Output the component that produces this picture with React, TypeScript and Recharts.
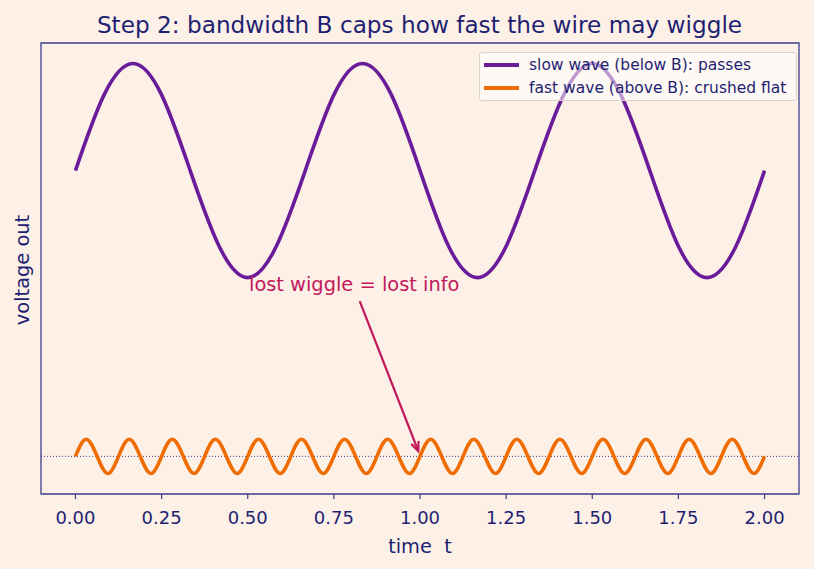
import { LineChart, Line, XAxis, YAxis, ReferenceLine, ReferenceArea, ReferenceDot } from "recharts";

const INK = "#1f1f72";
const FRAME = "#3c3c8c";
const BG = "#fdf1e7";
const SLOW = "#6a1b9a";
const FAST = "#ef6c00";
const NOTE = "#c2185b";
const FONT = "DejaVu Sans, Verdana, sans-serif";

const xTicks = [0, 0.25, 0.5, 0.75, 1, 1.25, 1.5, 1.75, 2];
const xDomain = [-0.1, 2.1];
const yDomain = [-0.3515, 3.8615];

// slow wave samples (1.5 cycles per unit of t), sampled every 1/12
const slowT = [
  0, 0.083, 0.167, 0.25, 0.333, 0.417, 0.5, 0.583, 0.667, 0.75, 0.833, 0.917, 1,
  1.083, 1.167, 1.25, 1.333, 1.417, 1.5, 1.583, 1.667, 1.75, 1.833, 1.917, 2,
];
const slowV = [
  2.67, 3.377, 3.67, 3.377, 2.67, 1.963, 1.67, 1.963,
  2.67, 3.377, 3.67, 3.377, 2.67, 1.963, 1.67, 1.963,
  2.67, 3.377, 3.67, 3.377, 2.67, 1.963, 1.67, 1.963,
  2.67,
];

// fast wave samples: zero / peak / zero / trough, every 1/32
const fastT = [
  0, 0.031, 0.063, 0.094, 0.125, 0.156, 0.188, 0.219, 0.25, 0.281, 0.313, 0.344, 0.375, 0.406, 0.438, 0.469,
  0.5, 0.531, 0.563, 0.594, 0.625, 0.656, 0.688, 0.719, 0.75, 0.781, 0.813, 0.844, 0.875, 0.906, 0.938, 0.969,
  1, 1.031, 1.063, 1.094, 1.125, 1.156, 1.188, 1.219, 1.25, 1.281, 1.313, 1.344, 1.375, 1.406, 1.438, 1.469,
  1.5, 1.531, 1.563, 1.594, 1.625, 1.656, 1.688, 1.719, 1.75, 1.781, 1.813, 1.844, 1.875, 1.906, 1.938, 1.969,
  2,
];
const fastV = [
  0, 0.16, 0, -0.16, 0, 0.16, 0, -0.16, 0, 0.16, 0, -0.16, 0, 0.16, 0, -0.16,
  0, 0.16, 0, -0.16, 0, 0.16, 0, -0.16, 0, 0.16, 0, -0.16, 0, 0.16, 0, -0.16,
  0, 0.16, 0, -0.16, 0, 0.16, 0, -0.16, 0, 0.16, 0, -0.16, 0, 0.16, 0, -0.16,
  0, 0.16, 0, -0.16, 0, 0.16, 0, -0.16, 0, 0.16, 0, -0.16, 0, 0.16, 0, -0.16,
  0,
];

const legendItems = [
  { label: "slow wave (below B): passes", color: SLOW },
  { label: "fast wave (above B): crushed flat", color: FAST },
];

const noteText = "lost wiggle = lost info";
const noteAt = { x: 0.809, y: 1.545 };
const arrowFrom = { x: 0.825, y: 1.45 };
const arrowTo = { x: 0.995, y: 0.05 };

const slowData = slowT.map((t, i) => ({ t, v: slowV[i] }));
const fastData = fastT.map((t, i) => ({ t, v: fastV[i] }));

function Arrow(p: any) {
  const { x1, y1, x2, y2 } = p;
  const ang = Math.atan2(y2 - y1, x2 - x1);
  const len = 10;
  const spread = 0.4;
  const ax = x2 - len * Math.cos(ang - spread);
  const ay = y2 - len * Math.sin(ang - spread);
  const bx = x2 - len * Math.cos(ang + spread);
  const by = y2 - len * Math.sin(ang + spread);
  return (
    <g>
      <line x1={x1} y1={y1} x2={x2} y2={y2} stroke={NOTE} strokeWidth={2.2} />
      <polyline points={`${ax},${ay} ${x2},${y2} ${bx},${by}`} fill="none" stroke={NOTE} strokeWidth={2.2} />
    </g>
  );
}

function NoteLabel(p: any) {
  return (
    <text x={p.cx} y={p.cy} textAnchor="middle" fill={NOTE} fontSize={19.4} fontFamily={FONT}>
      {noteText}
    </text>
  );
}

export default function App() {
  return (
    <div style={{ position: "relative", width: 814, height: 569, background: BG, fontFamily: FONT }}>
      <style>{`body{margin:0;background:${BG}}`}</style>
      <div
        style={{
          position: "absolute",
          left: 0,
          width: 839,
          top: 10.5,
          textAlign: "center",
          color: INK,
          fontSize: 23.2,
          whiteSpace: "nowrap",
        }}
      >
        Step 2: bandwidth B caps how fast the wire may wiggle
      </div>
      <LineChart width={814} height={569} margin={{ top: 43, left: 41, right: 15, bottom: 25 }}>
        <XAxis
          type="number"
          dataKey="t"
          domain={xDomain}
          ticks={xTicks}
          allowDataOverflow
          height={50}
          axisLine={false}
          tickSize={5}
          tickLine={{ stroke: FRAME, strokeWidth: 1.2 }}
          tickFormatter={(v: number) => v.toFixed(2)}
          tick={{ fill: INK, fontSize: 18, fontFamily: FONT, dy: 10 }}
          label={{ value: "time\u00a0\u00a0t", position: "insideBottom", offset: -9, fill: INK, fontSize: 19.4, fontFamily: FONT }}
        />
        <YAxis type="number" domain={yDomain} hide width={0} allowDataOverflow />
        <ReferenceArea x1={xDomain[0]} x2={xDomain[1]} y1={yDomain[0]} y2={yDomain[1]} fill="none" stroke={FRAME} strokeWidth={1.3} ifOverflow="visible" />
        <ReferenceLine y={0} stroke={FRAME} strokeWidth={1} strokeDasharray="1 2" />
        <Line data={slowData} dataKey="v" type="natural" stroke={SLOW} strokeWidth={3.6} dot={false} isAnimationActive={false} />
        <Line data={fastData} dataKey="v" type="natural" stroke={FAST} strokeWidth={3.6} dot={false} isAnimationActive={false} />
        <ReferenceLine segment={[arrowFrom, arrowTo]} shape={Arrow} ifOverflow="visible" />
        <ReferenceDot x={noteAt.x} y={noteAt.y} r={0} shape={NoteLabel} ifOverflow="visible" />
      </LineChart>
      <div
        style={{
          position: "absolute",
          left: 22,
          top: 270,
          transform: "translate(-50%, -50%) rotate(-90deg)",
          color: INK,
          fontSize: 19.4,
          whiteSpace: "nowrap",
        }}
      >
        voltage out
      </div>
      <div
        style={{
          position: "absolute",
          left: 479,
          top: 52,
          width: 318,
          height: 49,
          background: "rgba(255,255,255,0.55)",
          border: "1px solid #d8d2cc",
          borderRadius: 3,
          boxSizing: "border-box",
          padding: "0 0 0 4px",
        }}
      >
        {legendItems.map((it) => (
          <div key={it.label} style={{ display: "flex", alignItems: "center", height: 23.5 }}>
            <div style={{ width: 35, height: 3.6, background: it.color, marginRight: 10 }} />
            <span style={{ color: INK, fontSize: 15.5, whiteSpace: "nowrap" }}>{it.label}</span>
          </div>
        ))}
      </div>
    </div>
  );
}
